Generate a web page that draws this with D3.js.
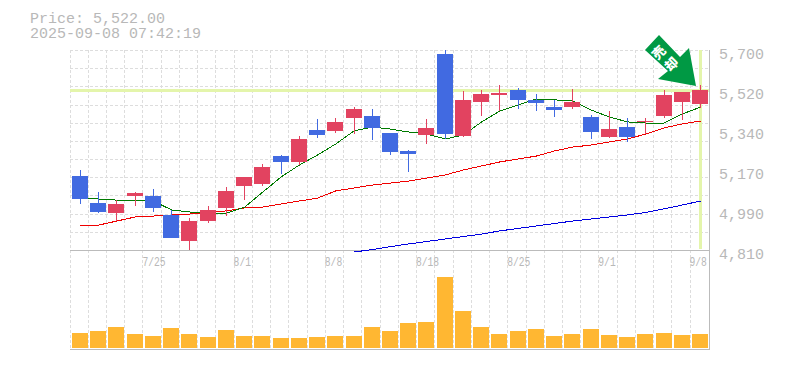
<!DOCTYPE html>
<html><head><meta charset="utf-8">
<script src="https://cdn.jsdelivr.net/npm/d3@7/dist/d3.min.js"></script>
<style>html,body{margin:0;padding:0;background:#fff}svg{display:block}text{font-family:"Liberation Mono",monospace}</style>
</head><body><div id="c"></div>
<script>
const dates=["7/18","7/22","7/23","7/24","7/25","7/28","7/29","7/30","7/31","8/1","8/4","8/5","8/6","8/7","8/8","8/12","8/13","8/14","8/15","8/18","8/19","8/20","8/21","8/22","8/25","8/26","8/27","8/28","8/29","9/1","9/2","9/3","9/4","9/5","9/8"];
const dateLabels=["7/25","8/1","8/8","8/18","8/25","9/1","9/8"];
const priceTicks=[5700,5522,5344,5166,4988,4810];
const priceLabels=["5,700","5,520","5,340","5,170","4,990","4,810"];
const lastPrice=5522;
const title1="Price: 5,522.00", title2="2025-09-08 07:42:19";
const signalChars=["売","却"];
// prices
const opens=[5139,5019,4975,5050,5050,4966,4850,4939,4997,5095,5104,5228,5202,5344,5340,5397,5406,5331,5251,5322,5682,5317,5469,5500,5522,5478,5446,5446,5402,5313,5357,5380,5406,5469,5460];
const closes=[5037,4979,5015,5064,4997,4863,4939,4988,5073,5135,5179,5202,5304,5322,5380,5437,5353,5246,5237,5353,5326,5478,5504,5509,5478,5464,5433,5469,5335,5348,5313,5384,5500,5513,5522];
const highs=[5166,5068,5032,5068,5081,4988,4952,5006,5090,5135,5193,5233,5317,5393,5397,5446,5437,5331,5255,5393,5700,5518,5522,5544,5531,5504,5478,5526,5411,5429,5397,5397,5522,5513,5544];
const lows=[5015,4975,4939,5006,4979,4863,4810,4930,4961,5032,5095,5148,5188,5308,5331,5326,5300,5233,5157,5282,5304,5313,5406,5429,5437,5429,5402,5437,5304,5308,5291,5326,5397,5388,5442];
const ma5=[5037,5037,5032,5032,5028,4988,4979,4975,4973,5001,5068,5135,5188,5233,5282,5340,5357,5348,5335,5326,5304,5322,5380,5429,5455,5482,5478,5473,5433,5402,5380,5375,5375,5415,5446];
const ma25=[4917,4921,4939,4957,4961,4966,4970,4975,4984,4997,5001,5015,5028,5041,5073,5086,5099,5108,5117,5130,5144,5166,5184,5202,5215,5228,5251,5268,5277,5291,5304,5326,5353,5371,5384];
const ma75=[null,null,null,null,null,null,null,null,null,null,null,null,null,null,null,4801,4812,4825,4837,4848,4859,4870,4881,4895,4906,4917,4928,4939,4948,4957,4966,4977,4993,5010,5028];
const volumes=[15,17,21,14,12,20,14,11,18,12,12,10,10,11,12,12,21,17,25,26,71,37,21,14,17,19,12,14,19,13,11,14,15,13,14];

const W=785,H=370;
const svg=d3.select("#c").append("svg").attr("width",W).attr("height",H).attr("shape-rendering","crispEdges");
const gridX=d3.scaleBand().domain(dates).range([70,708.4]);
const x=d3.scalePoint().domain(dates).range([80,700]);
const y=d3.scaleLinear().domain([4810,5700]).range([250,50]);
const yv=d3.scaleLinear().domain([0,80]).range([348,268]);
const bodyW=16;
const left=d=>Math.round(x(d)-bodyW/2);

const grid=svg.append("g").attr("stroke","#ddd").attr("stroke-dasharray","3,2");
const vx=dates.map(d=>Math.floor(gridX(d))+.5);
grid.selectAll("line.v").data(vx).join("line").attr("class","v").attr("x1",d=>d).attr("x2",d=>d).attr("y1",50).attr("y2",350);
const hTicks=d3.range(0,11).map(i=>5700-i*(5700-4810)/11);
grid.selectAll("line.h").data(hTicks).join("line").attr("class","h").attr("x1",70).attr("x2",709).attr("y1",d=>Math.round(y(d))+.5).attr("y2",d=>Math.round(y(d))+.5);

// current price guides
svg.append("rect").attr("x",70).attr("width",639).attr("y",Math.round(y(lastPrice))-1).attr("height",3).attr("fill","#e4f5ab");
svg.append("rect").attr("x",x(dates[34])-1).attr("width",3).attr("y",50).attr("height",199).attr("fill","#e4f5ab");

// frame
const frame=svg.append("g").attr("stroke","#bbb");
frame.append("line").attr("x1",70).attr("x2",710).attr("y1",250.5).attr("y2",250.5);
frame.append("line").attr("x1",70).attr("x2",710).attr("y1",349.5).attr("y2",349.5);
frame.append("line").attr("x1",709.5).attr("x2",709.5).attr("y1",50).attr("y2",350);

// moving averages
const lineG=svg.append("g").attr("fill","none").attr("shape-rendering","crispEdges");
const line=d3.line().defined(d=>d[1]!=null).x(d=>x(d[0])+.5).y(d=>y(d[1]));
[[ma75,"#0000e0",1],[ma25,"#f00000",1],[ma5,"#007a00",1]].forEach(([s,c,w])=>{
  lineG.append("path").attr("d",line(dates.map((d,i)=>[d,s[i]]))).attr("stroke",c).attr("stroke-width",w);
});

// candles
const rows=dates.map((d,i)=>({d,o:opens[i],c:closes[i],h:highs[i],l:lows[i]}));
const col=r=>r.c>=r.o?"#e24360":"#416ae1";
svg.append("g").selectAll("rect").data(rows).join("rect")
  .attr("x",r=>left(r.d)+bodyW/2).attr("width",1)
  .attr("y",r=>Math.round(y(r.h))).attr("height",r=>Math.round(y(r.l))-Math.round(y(r.h))).attr("fill",col);
svg.append("g").selectAll("rect").data(rows).join("rect")
  .attr("x",r=>left(r.d)).attr("width",bodyW)
  .attr("y",r=>Math.round(y(Math.max(r.o,r.c)))).attr("height",r=>Math.max(1,Math.round(y(Math.min(r.o,r.c)))-Math.round(y(Math.max(r.o,r.c))))).attr("fill",col);

// volume
svg.append("g").selectAll("rect").data(dates).join("rect")
  .attr("x",d=>left(d)).attr("width",bodyW)
  .attr("y",(d,i)=>yv(volumes[i])).attr("height",(d,i)=>yv(0)-yv(volumes[i])).attr("fill","#ffb732");

// axes text
const tc="#b8b8b8";
const ax=d3.axisRight(y).tickValues(priceTicks).tickSize(0).tickPadding(0).tickFormat((d,i)=>priceLabels[i]);
const ag=svg.append("g").attr("transform","translate(719,0)").call(ax);
ag.select(".domain").remove();
ag.selectAll("text").attr("fill",tc).attr("font-size",15).attr("font-family","Liberation Mono").attr("dy",8);
const bx=d3.axisBottom(x).tickValues(dateLabels).tickSize(0).tickPadding(0);
const bg=svg.append("g").attr("transform","translate(0,266)").call(bx);
bg.select(".domain").remove();
bg.selectAll("text").attr("fill",tc).attr("font-size",12).attr("font-family","Liberation Mono").attr("text-anchor","start").attr("dx",-11).attr("dy",0).attr("y",0)
  .attr("textLength",function(){return this.textContent.length*5.8}).attr("lengthAdjust","spacingAndGlyphs");

svg.append("text").attr("x",30).attr("y",23).attr("font-size",15).attr("fill",tc).text(title1);
svg.append("text").attr("x",30).attr("y",38).attr("font-size",15).attr("fill",tc).text(title2);

// signal arrow
const a=svg.append("g").attr("shape-rendering","auto");
a.append("path").attr("d","M659,35L645,50L668,71L658,79L696,86L689,48L680,57Z").attr("fill","#009944");
a.selectAll("text").data(signalChars).join("text")
 .attr("transform",(d,i)=>`translate(${659+i*12.7},${52.7+i*11.6}) rotate(-45)`)
 .attr("text-anchor","middle").attr("dy",4.5)
 .style("font-family","'Noto Sans CJK JP'").attr("font-size",13).attr("font-weight",900).attr("fill","#fff").text(d=>d);
</script></body></html>
